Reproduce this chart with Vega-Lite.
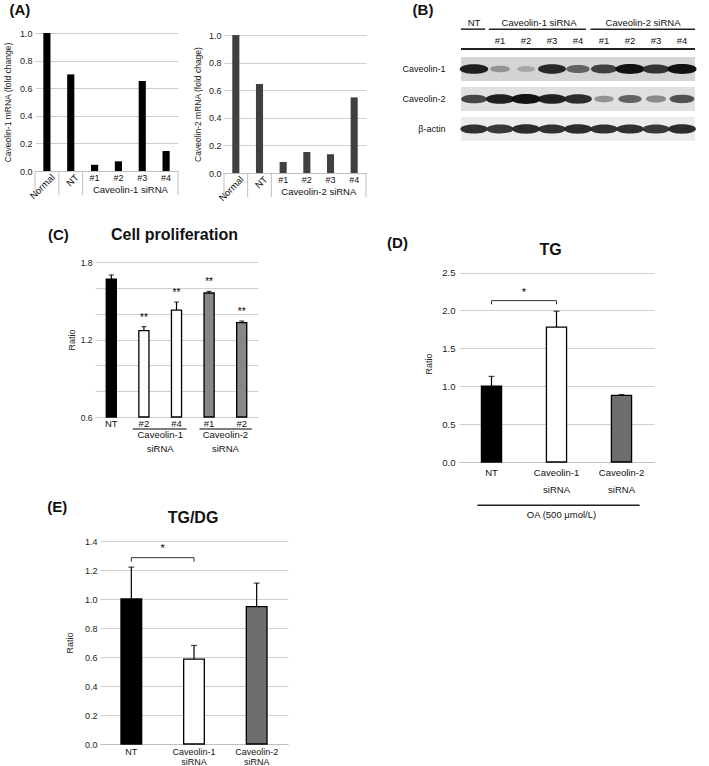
{
  "$schema": "https://vega.github.io/schema/vega-lite/v6.json",
  "width": 709,
  "height": 766,
  "autosize": {"type": "none"},
  "padding": 0,
  "background": "white",
  "config": {
    "font": "Liberation Sans",
    "view": {"stroke": null},
    "axis": {"labelFont": "Liberation Sans", "titleFont": "Liberation Sans", "labelColor": "#222", "titleColor": "#222", "titleFontWeight": "normal", "gridColor": "#cfcfcf", "domainColor": "#bfbfbf", "ticks": false},
    "text": {"font": "Liberation Sans", "color": "#111111"}
  },
  "resolve": {
    "scale": {"x": "independent", "y": "independent", "color": "independent", "fill": "independent", "size": "independent"},
    "axis": {"x": "independent", "y": "independent"}
  },
  "layer": [
    {
      "data": {"values": [
        {"cat": "Normal", "val": 1.0}, {"cat": "NT", "val": 0.70}, {"cat": "#1", "val": 0.045},
        {"cat": "#2", "val": 0.07}, {"cat": "#3", "val": 0.652}, {"cat": "#4", "val": 0.145}
      ]},
      "layer": [
        {"mark": {"type": "bar", "color": "#000000"},
         "encoding": {
           "x": {"field": "cat", "type": "nominal", "sort": null,
                 "scale": {"domain": ["Normal", "NT", "#1", "#2", "#3", "#4"], "range": [35, 178], "paddingInner": 0.7, "paddingOuter": 0.35},
                 "axis": {"orient": "bottom", "offset": -595, "labels": false, "ticks": false, "title": null, "domainColor": "#bfbfbf"}},
           "y": {"field": "val", "type": "quantitative",
                 "scale": {"domain": [0, 1], "range": [171, 33]},
                 "axis": {"orient": "left", "offset": -35, "values": [0, 0.2, 0.4, 0.6, 0.8, 1], "format": ".1f", "domain": false, "ticks": false, "grid": true, "labelFontSize": 9, "labelPadding": 3, "title": "Caveolin-1 mRNA (fold change)", "titleFontSize": 8.5, "titlePadding": 7}}
         }},
        {"transform": [{"filter": "datum.cat == 'Normal' || datum.cat == 'NT'"}],
         "mark": {"type": "text", "angle": 315, "align": "right", "baseline": "middle", "dx": 1, "dy": 8, "fontSize": 9.5},
         "encoding": {"x": {"field": "cat", "type": "nominal", "sort": null}, "y": {"datum": 0}, "text": {"field": "cat"}}},
        {"transform": [{"filter": "datum.cat != 'Normal' && datum.cat != 'NT'"}],
         "mark": {"type": "text", "baseline": "top", "dy": 3, "fontSize": 9},
         "encoding": {"x": {"field": "cat", "type": "nominal", "sort": null}, "y": {"datum": 0}, "text": {"field": "cat"}}},
        {"transform": [{"filter": "datum.cat == 'Normal' || datum.cat == 'NT' || datum.cat == '#1'"}],
         "mark": {"type": "rule", "color": "#bfbfbf"},
         "encoding": {"x": {"field": "cat", "type": "nominal", "sort": null, "bandPosition": -1.1667}, "y": {"datum": 0}, "y2": {"datum": -0.175}}},
        {"data": {"values": [{"t": "x"}]},
         "mark": {"type": "rule", "color": "#bfbfbf"},
         "encoding": {"x": {"datum": "#4", "bandPosition": 2.1667}, "y": {"datum": 0}, "y2": {"datum": -0.175}}},
        {"data": {"values": [{"t": "Caveolin-1 siRNA"}]},
         "mark": {"type": "text", "baseline": "top", "dx": 12, "dy": 14, "fontSize": 9.5},
         "encoding": {"x": {"datum": "#2"}, "y": {"datum": 0}, "text": {"field": "t"}}},
        {"data": {"values": [{"t": "(A)"}]},
         "mark": {"type": "text", "baseline": "middle", "dx": -27, "dy": -23, "fontSize": 15, "fontWeight": "bold"},
         "encoding": {"x": {"datum": "Normal"}, "y": {"datum": 1}, "text": {"field": "t"}}}
      ]
    },
    {
      "data": {"values": [
        {"cat": "Normal", "val": 1.0}, {"cat": "NT", "val": 0.645}, {"cat": "#1", "val": 0.08},
        {"cat": "#2", "val": 0.152}, {"cat": "#3", "val": 0.136}, {"cat": "#4", "val": 0.548}
      ]},
      "layer": [
        {"mark": {"type": "bar", "color": "#404040"},
         "encoding": {
           "x": {"field": "cat", "type": "nominal", "sort": null,
                 "scale": {"domain": ["Normal", "NT", "#1", "#2", "#3", "#4"], "range": [224, 366], "paddingInner": 0.7, "paddingOuter": 0.35},
                 "axis": {"orient": "bottom", "offset": -593, "labels": false, "ticks": false, "title": null, "domainColor": "#bfbfbf"}},
           "y": {"field": "val", "type": "quantitative",
                 "scale": {"domain": [0, 1], "range": [173, 35]},
                 "axis": {"orient": "left", "offset": -224, "values": [0, 0.2, 0.4, 0.6, 0.8, 1], "format": ".1f", "domain": false, "ticks": false, "grid": true, "labelFontSize": 9, "labelPadding": 3, "title": "Caveolin-2 mRNA (fold chage)", "titleFontSize": 8.5, "titlePadding": 6}}
         }},
        {"transform": [{"filter": "datum.cat == 'Normal' || datum.cat == 'NT'"}],
         "mark": {"type": "text", "angle": 315, "align": "right", "baseline": "middle", "dx": 1, "dy": 8, "fontSize": 9.5},
         "encoding": {"x": {"field": "cat", "type": "nominal", "sort": null}, "y": {"datum": 0}, "text": {"field": "cat"}}},
        {"transform": [{"filter": "datum.cat != 'Normal' && datum.cat != 'NT'"}],
         "mark": {"type": "text", "baseline": "top", "dy": 3, "fontSize": 9},
         "encoding": {"x": {"field": "cat", "type": "nominal", "sort": null}, "y": {"datum": 0}, "text": {"field": "cat"}}},
        {"transform": [{"filter": "datum.cat == 'Normal' || datum.cat == 'NT' || datum.cat == '#1'"}],
         "mark": {"type": "rule", "color": "#bfbfbf"},
         "encoding": {"x": {"field": "cat", "type": "nominal", "sort": null, "bandPosition": -1.1667}, "y": {"datum": 0}, "y2": {"datum": -0.175}}},
        {"data": {"values": [{"t": "x"}]},
         "mark": {"type": "rule", "color": "#bfbfbf"},
         "encoding": {"x": {"datum": "#4", "bandPosition": 2.1667}, "y": {"datum": 0}, "y2": {"datum": -0.175}}},
        {"data": {"values": [{"t": "Caveolin-2 siRNA"}]},
         "mark": {"type": "text", "baseline": "top", "dx": 12, "dy": 14, "fontSize": 9.5},
         "encoding": {"x": {"datum": "#2"}, "y": {"datum": 0}, "text": {"field": "t"}}}
      ]
    },
    {
      "layer": [
        {"data": {"values": [{"row": "Caveolin-1"}, {"row": "Caveolin-2"}, {"row": "β-actin"}]},
         "mark": {"type": "rect"},
         "encoding": {
           "x": {"datum": -0.5, "type": "quantitative", "scale": {"domain": [-0.5, 8.5], "range": [448, 708]}, "axis": null},
           "x2": {"datum": 8.5},
           "y": {"field": "row", "type": "nominal", "sort": null,
                 "scale": {"domain": ["Caveolin-1", "Caveolin-2", "β-actin"], "range": [54, 144], "paddingInner": 0.2, "paddingOuter": 0.1},
                 "axis": {"orient": "left", "offset": -448, "title": null, "domain": false, "ticks": false, "grid": false, "labelFontSize": 9, "labelPadding": 3, "labelColor": "#111"}},
           "fill": {"field": "row", "type": "nominal", "scale": {"domain": ["Caveolin-1", "Caveolin-2", "β-actin"], "range": ["#d4d4d4", "#e0e0e0", "#ececec"]}, "legend": null}
         }},
        {"data": {"values": [
          {"row": "Caveolin-1", "lane": 0, "v": 0.95}, {"row": "Caveolin-1", "lane": 1, "v": 0.3}, {"row": "Caveolin-1", "lane": 2, "v": 0.2},
          {"row": "Caveolin-1", "lane": 3, "v": 0.9}, {"row": "Caveolin-1", "lane": 4, "v": 0.55}, {"row": "Caveolin-1", "lane": 5, "v": 0.75},
          {"row": "Caveolin-1", "lane": 6, "v": 1.0}, {"row": "Caveolin-1", "lane": 7, "v": 0.82}, {"row": "Caveolin-1", "lane": 8, "v": 1.0},
          {"row": "Caveolin-2", "lane": 0, "v": 0.72}, {"row": "Caveolin-2", "lane": 1, "v": 0.95}, {"row": "Caveolin-2", "lane": 2, "v": 1.0},
          {"row": "Caveolin-2", "lane": 3, "v": 0.95}, {"row": "Caveolin-2", "lane": 4, "v": 0.88}, {"row": "Caveolin-2", "lane": 5, "v": 0.3},
          {"row": "Caveolin-2", "lane": 6, "v": 0.55}, {"row": "Caveolin-2", "lane": 7, "v": 0.35}, {"row": "Caveolin-2", "lane": 8, "v": 0.65},
          {"row": "β-actin", "lane": 0, "v": 0.85}, {"row": "β-actin", "lane": 1, "v": 0.8}, {"row": "β-actin", "lane": 2, "v": 0.88},
          {"row": "β-actin", "lane": 3, "v": 0.85}, {"row": "β-actin", "lane": 4, "v": 0.88}, {"row": "β-actin", "lane": 5, "v": 0.85},
          {"row": "β-actin", "lane": 6, "v": 0.85}, {"row": "β-actin", "lane": 7, "v": 0.8}, {"row": "β-actin", "lane": 8, "v": 0.88}
         ]},
         "mark": {"type": "point", "shape": "M-1,0C-1,-0.45,1,-0.45,1,0C1,0.45,-1,0.45,-1,0Z", "filled": true, "opacity": 0.92},
         "encoding": {
           "x": {"field": "lane", "type": "quantitative"},
           "y": {"field": "row", "type": "nominal", "sort": null},
           "color": {"field": "v", "type": "quantitative", "scale": {"domain": [0, 1], "range": ["#d0d0d0", "#000000"]}, "legend": null},
           "size": {"field": "v", "type": "quantitative", "scale": {"domain": [0, 1], "range": [180, 850], "zero": false}, "legend": null}
         }},
        {"data": {"values": [
          {"lane": 1, "label": "#1"}, {"lane": 2, "label": "#2"}, {"lane": 3, "label": "#3"}, {"lane": 4, "label": "#4"},
          {"lane": 5, "label": "#1"}, {"lane": 6, "label": "#2"}, {"lane": 7, "label": "#3"}, {"lane": 8, "label": "#4"}
         ]},
         "mark": {"type": "text", "baseline": "middle", "dy": -28, "fontSize": 9.5},
         "encoding": {"x": {"field": "lane", "type": "quantitative"}, "y": {"datum": "Caveolin-1"}, "text": {"field": "label"}}},
        {"data": {"values": [
          {"mid": 0, "t": "NT", "a": -0.5, "b": 0.43},
          {"mid": 2.5, "t": "Caveolin-1 siRNA", "a": 0.57, "b": 4.31},
          {"mid": 6.5, "t": "Caveolin-2 siRNA", "a": 4.48, "b": 8.5}
         ]},
         "layer": [
           {"mark": {"type": "text", "baseline": "middle", "dy": -46, "fontSize": 9.5},
            "encoding": {"x": {"field": "mid", "type": "quantitative"}, "y": {"datum": "Caveolin-1"}, "text": {"field": "t"}}},
           {"mark": {"type": "rule", "color": "#222", "strokeWidth": 1.5},
            "encoding": {"x": {"field": "a", "type": "quantitative"}, "x2": {"field": "b"}, "y": {"datum": "Caveolin-1", "bandPosition": -1.16}}}
         ]},
        {"data": {"values": [{"t": "(B)"}]},
         "layer": [
           {"mark": {"type": "rule", "color": "#222", "strokeWidth": 2},
            "encoding": {"x": {"datum": -0.5}, "x2": {"datum": 8.5}, "y": {"datum": "Caveolin-1", "bandPosition": -0.33}}},
           {"mark": {"type": "text", "baseline": "middle", "dx": -38, "dy": -59, "fontSize": 15, "fontWeight": "bold"},
            "encoding": {"x": {"datum": -0.5}, "y": {"datum": "Caveolin-1"}, "text": {"field": "t"}}}
         ]}
      ]
    },
    {
      "data": {"values": [
        {"cat": "NT", "grp": "NT", "val": 1.668, "hi": 1.70, "sig": ""},
        {"cat": "Caveolin-1 #2", "grp": "Caveolin-1", "val": 1.268, "hi": 1.30, "sig": "**"},
        {"cat": "Caveolin-1 #4", "grp": "Caveolin-1", "val": 1.428, "hi": 1.49, "sig": "**"},
        {"cat": "Caveolin-2 #1", "grp": "Caveolin-2", "val": 1.56, "hi": 1.573, "sig": "**"},
        {"cat": "Caveolin-2 #2", "grp": "Caveolin-2", "val": 1.33, "hi": 1.343, "sig": "**"}
      ]},
      "layer": [
        {"mark": {"type": "bar", "stroke": "#000000", "strokeWidth": 1.3},
         "encoding": {
           "x": {"field": "cat", "type": "nominal", "sort": null,
                 "scale": {"domain": ["NT", "Caveolin-1 #2", "Caveolin-1 #4", "Caveolin-2 #1", "Caveolin-2 #2"], "range": [95, 258], "paddingInner": 0.69, "paddingOuter": 0.345},
                 "axis": {"orient": "bottom", "offset": -349, "labelExpr": "datum.value == 'NT' ? 'NT' : slice(datum.value, -2)", "labelAngle": 0, "labelFontSize": 9.5, "labelPadding": 1, "ticks": false, "title": null, "domainColor": "#cfcfcf", "labelColor": "#111"}},
           "y": {"field": "val", "type": "quantitative",
                 "scale": {"domain": [0.6, 1.8], "range": [417, 262]},
                 "axis": {"orient": "left", "offset": -95, "values": [0.6, 0.8, 1, 1.2, 1.4, 1.6, 1.8], "labelExpr": "(abs(datum.value - 0.6) < 0.01 || abs(datum.value - 1.2) < 0.01 || abs(datum.value - 1.8) < 0.01) ? format(datum.value, '.1f') : ''", "domain": false, "ticks": false, "grid": true, "labelFontSize": 8.5, "labelPadding": 3, "title": "Ratio", "titleFontSize": 9, "titlePadding": 4}},
           "y2": {"datum": 0.6},
           "color": {"field": "grp", "type": "nominal", "scale": {"domain": ["NT", "Caveolin-1", "Caveolin-2"], "range": ["#000000", "#ffffff", "#878787"]}, "legend": null}
         }},
        {"mark": {"type": "rule", "color": "#000000", "strokeWidth": 1.2},
         "encoding": {"x": {"field": "cat", "type": "nominal", "sort": null}, "y": {"field": "val", "type": "quantitative"}, "y2": {"field": "hi"}}},
        {"mark": {"type": "tick", "color": "#000000", "size": 5, "thickness": 1.2},
         "encoding": {"x": {"field": "cat", "type": "nominal", "sort": null}, "y": {"field": "hi", "type": "quantitative"}}},
        {"mark": {"type": "text", "baseline": "middle", "dy": -9, "fontSize": 10, "color": "#000000"},
         "encoding": {"x": {"field": "cat", "type": "nominal", "sort": null}, "y": {"field": "hi", "type": "quantitative"}, "text": {"field": "sig"}}},
        {"data": {"values": [{"t": "x"}]},
         "mark": {"type": "rule", "color": "#000000", "strokeWidth": 1.2},
         "encoding": {"x": {"datum": "Caveolin-1 #2", "bandPosition": -0.6}, "x2": {"datum": "Caveolin-1 #4", "bandPosition": 1.5}, "y": {"datum": 0.507}}},
        {"data": {"values": [{"t": "x"}]},
         "mark": {"type": "rule", "color": "#000000", "strokeWidth": 1.2},
         "encoding": {"x": {"datum": "Caveolin-2 #1", "bandPosition": -0.45}, "x2": {"datum": "Caveolin-2 #2", "bandPosition": 1.5}, "y": {"datum": 0.507}}},
        {"data": {"values": [{"at": "Caveolin-1 #2", "t": "Caveolin-1\nsiRNA"}, {"at": "Caveolin-2 #1", "t": "Caveolin-2\nsiRNA"}]},
         "mark": {"type": "text", "baseline": "top", "lineBreak": "\n", "lineHeight": 14, "dx": 16.3, "dy": 13, "fontSize": 9.5},
         "encoding": {"x": {"field": "at", "type": "nominal"}, "y": {"datum": 0.6}, "text": {"field": "t"}}},
        {"data": {"values": [{"t": "(C)"}]},
         "mark": {"type": "text", "baseline": "middle", "dx": -53, "dy": -27, "fontSize": 15, "fontWeight": "bold"},
         "encoding": {"x": {"datum": "NT"}, "y": {"datum": 1.8}, "text": {"field": "t"}}},
        {"data": {"values": [{"t": "Cell proliferation"}]},
         "mark": {"type": "text", "baseline": "middle", "dx": -2, "dy": -27, "fontSize": 16, "fontWeight": "bold"},
         "encoding": {"x": {"datum": "Caveolin-1 #4"}, "y": {"datum": 1.8}, "text": {"field": "t"}}}
      ]
    },
    {
      "data": {"values": [
        {"cat": "NT", "val": 1.0, "hi": 1.13},
        {"cat": "Caveolin-1 siRNA", "val": 1.78, "hi": 1.99},
        {"cat": "Caveolin-2 siRNA", "val": 0.88, "hi": 0.89}
      ]},
      "layer": [
        {"mark": {"type": "bar", "stroke": "#000000", "strokeWidth": 1.3},
         "encoding": {
           "x": {"field": "cat", "type": "nominal", "sort": null,
                 "scale": {"domain": ["NT", "Caveolin-1 siRNA", "Caveolin-2 siRNA"], "range": [459, 654], "paddingInner": 0.69, "paddingOuter": 0.345},
                 "axis": {"orient": "bottom", "offset": -304, "labelExpr": "split(datum.value, ' ')", "labelAngle": 0, "labelFontSize": 9.5, "labelLineHeight": 17, "labelPadding": 5, "ticks": false, "title": null, "domainColor": "#bfbfbf", "labelColor": "#111"}},
           "y": {"field": "val", "type": "quantitative",
                 "scale": {"domain": [0, 2.5], "range": [462, 265]},
                 "axis": {"orient": "left", "offset": -459, "values": [0, 0.5, 1, 1.5, 2, 2.5], "format": ".1f", "domain": false, "ticks": false, "grid": true, "labelFontSize": 9.5, "labelPadding": 4, "title": "Ratio", "titleFontSize": 9, "titlePadding": 8}},
           "color": {"field": "cat", "type": "nominal", "scale": {"domain": ["NT", "Caveolin-1 siRNA", "Caveolin-2 siRNA"], "range": ["#000000", "#ffffff", "#6e6e6e"]}, "legend": null}
         }},
        {"mark": {"type": "rule", "color": "#000000", "strokeWidth": 1.2},
         "encoding": {"x": {"field": "cat", "type": "nominal", "sort": null}, "y": {"field": "val", "type": "quantitative"}, "y2": {"field": "hi"}}},
        {"mark": {"type": "tick", "color": "#000000", "size": 6, "thickness": 1.2},
         "encoding": {"x": {"field": "cat", "type": "nominal", "sort": null}, "y": {"field": "hi", "type": "quantitative"}}},
        {"data": {"values": [{"a": "NT", "b": "Caveolin-1 siRNA", "top": 2.13, "foot": 2.08, "s": "*"}]},
         "layer": [
           {"mark": {"type": "rule", "color": "#333333", "strokeWidth": 1},
            "encoding": {"x": {"field": "a", "type": "nominal"}, "x2": {"field": "b"}, "y": {"field": "top", "type": "quantitative"}}},
           {"mark": {"type": "rule", "color": "#333333", "strokeWidth": 1},
            "encoding": {"x": {"field": "a", "type": "nominal"}, "y": {"field": "top", "type": "quantitative"}, "y2": {"field": "foot"}}},
           {"mark": {"type": "rule", "color": "#333333", "strokeWidth": 1},
            "encoding": {"x": {"field": "b", "type": "nominal"}, "y": {"field": "top", "type": "quantitative"}, "y2": {"field": "foot"}}},
           {"mark": {"type": "text", "baseline": "middle", "dx": 32.5, "dy": -8, "fontSize": 11, "color": "#000000"},
            "encoding": {"x": {"field": "a", "type": "nominal"}, "y": {"field": "top", "type": "quantitative"}, "text": {"field": "s"}}}
         ]},
        {"data": {"values": [{"t": "OA (500 μmol/L)"}]},
         "layer": [
           {"mark": {"type": "rule", "color": "#222222", "strokeWidth": 1.5},
            "encoding": {"x": {"datum": "NT", "bandPosition": -0.2}, "x2": {"datum": "Caveolin-2 siRNA", "bandPosition": 1.4}, "y": {"datum": -0.571}}},
           {"mark": {"type": "text", "baseline": "middle", "dx": 5, "fontSize": 9.5},
            "encoding": {"x": {"datum": "Caveolin-1 siRNA"}, "y": {"datum": -0.698}, "text": {"field": "t"}}}
         ]},
        {"data": {"values": [{"t": "(D)"}]},
         "mark": {"type": "text", "baseline": "middle", "dx": -94, "dy": -30, "fontSize": 15, "fontWeight": "bold"},
         "encoding": {"x": {"datum": "NT"}, "y": {"datum": 2.5}, "text": {"field": "t"}}},
        {"data": {"values": [{"t": "TG"}]},
         "mark": {"type": "text", "baseline": "middle", "dx": -6, "dy": -23, "fontSize": 16, "fontWeight": "bold"},
         "encoding": {"x": {"datum": "Caveolin-1 siRNA"}, "y": {"datum": 2.5}, "text": {"field": "t"}}}
      ]
    },
    {
      "data": {"values": [
        {"cat": "NT", "val": 1.0, "hi": 1.22},
        {"cat": "Caveolin-1 siRNA", "val": 0.586, "hi": 0.68},
        {"cat": "Caveolin-2 siRNA", "val": 0.947, "hi": 1.11}
      ]},
      "layer": [
        {"mark": {"type": "bar", "stroke": "#000000", "strokeWidth": 1.3},
         "encoding": {
           "x": {"field": "cat", "type": "nominal", "sort": null,
                 "scale": {"domain": ["NT", "Caveolin-1 siRNA", "Caveolin-2 siRNA"], "range": [100, 288], "paddingInner": 0.67, "paddingOuter": 0.335},
                 "axis": {"orient": "bottom", "offset": -22, "labelExpr": "split(datum.value, ' ')", "labelAngle": 0, "labelFontSize": 9, "labelLineHeight": 10, "labelPadding": 3, "ticks": false, "title": null, "domainColor": "#bfbfbf", "labelColor": "#111"}},
           "y": {"field": "val", "type": "quantitative",
                 "scale": {"domain": [0, 1.4], "range": [744, 541]},
                 "axis": {"orient": "left", "offset": -100, "values": [0, 0.2, 0.4, 0.6, 0.8, 1, 1.2, 1.4], "format": ".1f", "domain": false, "ticks": false, "grid": true, "labelFontSize": 9, "labelPadding": 3, "title": "Ratio", "titleFontSize": 9, "titlePadding": 10}},
           "color": {"field": "cat", "type": "nominal", "scale": {"domain": ["NT", "Caveolin-1 siRNA", "Caveolin-2 siRNA"], "range": ["#000000", "#ffffff", "#6e6e6e"]}, "legend": null}
         }},
        {"mark": {"type": "rule", "color": "#000000", "strokeWidth": 1.2},
         "encoding": {"x": {"field": "cat", "type": "nominal", "sort": null}, "y": {"field": "val", "type": "quantitative"}, "y2": {"field": "hi"}}},
        {"mark": {"type": "tick", "color": "#000000", "size": 6, "thickness": 1.2},
         "encoding": {"x": {"field": "cat", "type": "nominal", "sort": null}, "y": {"field": "hi", "type": "quantitative"}}},
        {"data": {"values": [{"a": "NT", "b": "Caveolin-1 siRNA", "top": 1.285, "foot": 1.257, "s": "*"}]},
         "layer": [
           {"mark": {"type": "rule", "color": "#333333", "strokeWidth": 1},
            "encoding": {"x": {"field": "a", "type": "nominal"}, "x2": {"field": "b"}, "y": {"field": "top", "type": "quantitative"}}},
           {"mark": {"type": "rule", "color": "#333333", "strokeWidth": 1},
            "encoding": {"x": {"field": "a", "type": "nominal"}, "y": {"field": "top", "type": "quantitative"}, "y2": {"field": "foot"}}},
           {"mark": {"type": "rule", "color": "#333333", "strokeWidth": 1},
            "encoding": {"x": {"field": "b", "type": "nominal"}, "y": {"field": "top", "type": "quantitative"}, "y2": {"field": "foot"}}},
           {"mark": {"type": "text", "baseline": "middle", "dx": 31.3, "dy": -9, "fontSize": 11, "color": "#000000"},
            "encoding": {"x": {"field": "a", "type": "nominal"}, "y": {"field": "top", "type": "quantitative"}, "text": {"field": "s"}}}
         ]},
        {"data": {"values": [{"t": "(E)"}]},
         "mark": {"type": "text", "baseline": "middle", "dx": -74, "dy": -34, "fontSize": 15, "fontWeight": "bold"},
         "encoding": {"x": {"datum": "NT"}, "y": {"datum": 1.4}, "text": {"field": "t"}}},
        {"data": {"values": [{"t": "TG/DG"}]},
         "mark": {"type": "text", "baseline": "middle", "dx": -1, "dy": -23, "fontSize": 16, "fontWeight": "bold"},
         "encoding": {"x": {"datum": "Caveolin-1 siRNA"}, "y": {"datum": 1.4}, "text": {"field": "t"}}}
      ]
    }
  ]
}
